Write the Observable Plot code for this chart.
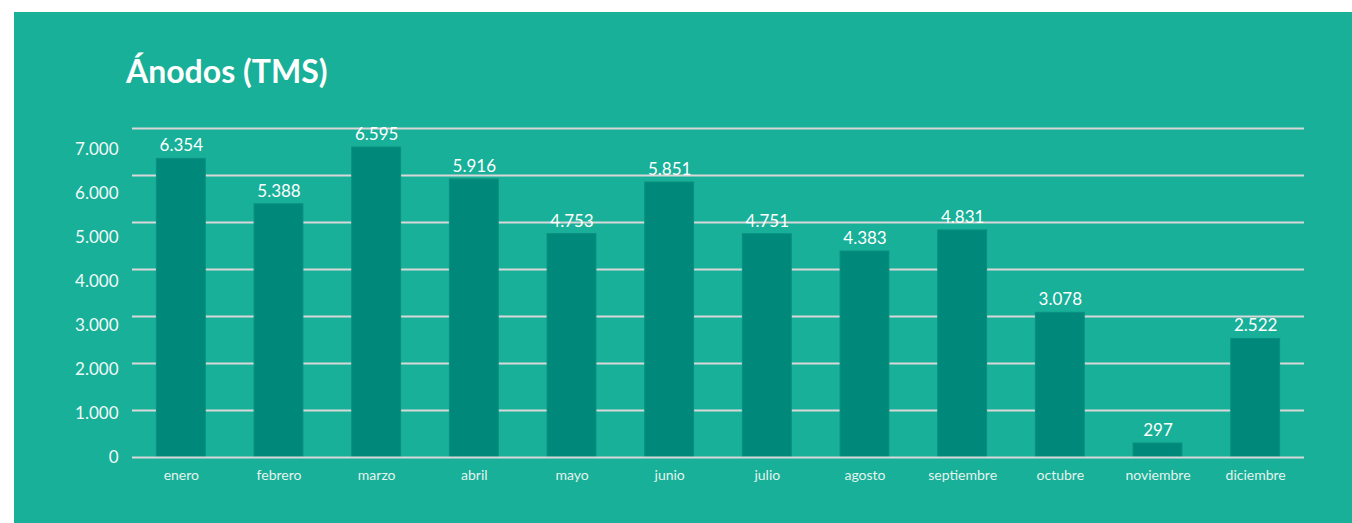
<!DOCTYPE html>
<html>
<head>
<meta charset="utf-8">
<script src="https://cdn.jsdelivr.net/npm/d3@7"></script>
<script src="https://cdn.jsdelivr.net/npm/@observablehq/plot@0.6"></script>
<style>
  html, body { margin: 0; padding: 0; background: #ffffff; width: 1352px; height: 523px; overflow: hidden; }
  #panel { position: absolute; left: 14px; top: 12px; width: 1338px; height: 511px; background: #18B098; }
  #title { position: absolute; left: 126px; top: 55px; margin: 0; font-family: Lato, "Open Sans", sans-serif; font-weight: 700; font-size: 32px; color: #ffffff; line-height: 1; }
  #chart, #yaxis { position: absolute; left: 0; top: 0; }
  svg { background: transparent !important; overflow: visible; }
</style>
</head>
<body>
<div id="panel"></div>
<h2 id="title">Ánodos (TMS)</h2>
<div id="chart"></div>
<div id="yaxis"></div>
<script>
const months = ["enero","febrero","marzo","abril","mayo","junio","julio","agosto","septiembre","octubre","noviembre","diciembre"];
const values = [6354, 5388, 6595, 5916, 4753, 5851, 4751, 4383, 4831, 3078, 297, 2522];
const yTicks = [0, 1000, 2000, 3000, 4000, 5000, 6000, 7000];

const data = months.map((m, i) => ({month: m, value: values[i]}));
const locale = d3.formatLocale({decimal: ",", thousands: ".", grouping: [3], currency: ["", ""]});
const fmt = locale.format(",d");
const font = "Lato, 'Open Sans', sans-serif";

const chart = Plot.plot({
  width: 1352,
  height: 523,
  marginLeft: 132,
  marginRight: 48,
  marginTop: 128,
  marginBottom: 66,
  style: {background: "transparent", fontFamily: font, color: "#ffffff"},
  x: {domain: months, paddingInner: 0.5, paddingOuter: 0.25, round: false, label: null},
  y: {domain: [0, 7000], label: null, axis: null},
  marks: [
    Plot.ruleY(yTicks.filter(d => d > 0), {stroke: "#D8D8D8", strokeWidth: 2}),
    Plot.barY(data, {x: "month", y: "value", fill: "#00897A", stroke: "#0A8F80", strokeWidth: 1}),
    Plot.ruleY([0], {stroke: "#D8D8D8", strokeWidth: 2}),
    Plot.text(data, {x: "month", y: "value", text: d => fmt(d.value), dy: -13, fill: "#ffffff", fontSize: 17}),
    Plot.axisX({tickSize: 0, tickPadding: 13, fontSize: 14, fill: "#E4F3EF", label: null})
  ]
});
document.getElementById("chart").appendChild(chart);

const yaxis = Plot.plot({
  width: 132,
  height: 523,
  marginLeft: 120,
  marginRight: 0,
  marginTop: 149,
  marginBottom: 66,
  style: {background: "transparent", fontFamily: font},
  x: {axis: null},
  y: {domain: [0, 7000], label: null},
  marks: [
    Plot.axisY(yTicks, {tickSize: 0, tickPadding: 2, fontSize: 17, fill: "#F2FAF8", tickFormat: fmt, label: null})
  ]
});
document.getElementById("yaxis").appendChild(yaxis);
</script>
</body>
</html>
